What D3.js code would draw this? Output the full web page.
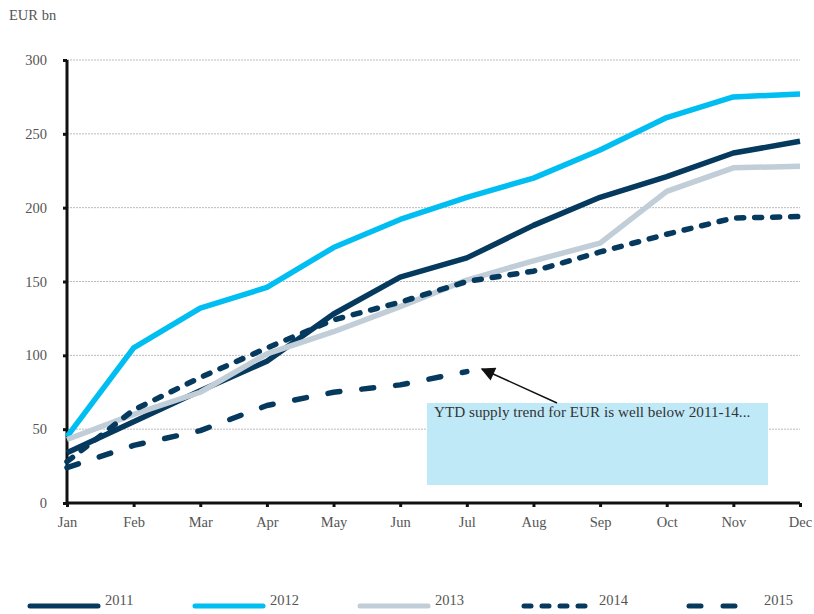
<!DOCTYPE html>
<html>
<head>
<meta charset="utf-8">
<script src="https://cdn.jsdelivr.net/npm/d3@7"></script>
<style>
  html, body { margin: 0; padding: 0; background: #fff; }
  svg { display: block; font-family: "Liberation Serif", "DejaVu Serif", serif; }
</style>
</head>
<body>
<svg id="chart" width="814" height="614"></svg>
<script>
const months = ["Jan","Feb","Mar","Apr","May","Jun","Jul","Aug","Sep","Oct","Nov","Dec"];
const yTicks = [0, 50, 100, 150, 200, 250, 300];
const s2011 = [34, 55, 76, 96, 128, 153, 166, 188, 207, 221, 237, 245];
const s2012 = [45, 105, 132, 146, 173, 192, 207, 220, 239, 261, 275, 277];
const s2013 = [43, 60, 75, 101, 116, 133, 151, 164, 176, 211, 227, 228];
const s2014 = [28, 63, 85, 105, 124, 136, 150, 157, 170, 182, 193, 194];
const s2015 = [24, 39, 49, 66, 75, 80, 89];
const seriesNames = ["2011", "2012", "2013", "2014", "2015"];
const annotationText = "YTD supply trend for EUR is well below 2011-14...";

const series = [
  { name: "2011", values: s2011, color: "#053a5e", dash: null },
  { name: "2012", values: s2012, color: "#00bdf2", dash: null },
  { name: "2013", values: s2013, color: "#c1ced8", dash: null },
  { name: "2014", values: s2014, color: "#053a5e", dash: "7,11" },
  { name: "2015", values: s2015, color: "#053a5e", dash: "12,22" }
];

const svg = d3.select("#chart");
const x = d3.scalePoint().domain(months).range([67, 800]);
const y = d3.scaleLinear().domain([0, 300]).range([503, 60]);

// gridlines
svg.append("g").selectAll("line").data(yTicks.filter(d => d > 0)).join("line")
  .attr("x1", 67).attr("x2", 800)
  .attr("y1", d => y(d)).attr("y2", d => y(d))
  .attr("stroke", "#bbb").attr("stroke-width", 1).attr("stroke-dasharray", "2,1");

// y axis
const yAxis = svg.append("g").attr("transform", "translate(67,0)")
  .call(d3.axisLeft(y).tickValues(yTicks).tickSize(4).tickPadding(16));
yAxis.select(".domain").attr("stroke", "#111").attr("stroke-width", 3).attr("d", `M0,${y(300)}V${y(0)}`);
yAxis.selectAll(".tick line").attr("stroke", "#111").attr("stroke-width", 3);
yAxis.selectAll(".tick text").attr("fill", "#555").style("font-size", "14.5px")
  .style("font-family", "'Liberation Serif', serif");

// x axis
const xAxis = svg.append("g").attr("transform", `translate(0,${y(0)})`)
  .call(d3.axisBottom(x).tickSize(4).tickPadding(10));
xAxis.select(".domain").attr("stroke", "#111").attr("stroke-width", 3).attr("d", `M${x("Jan")},0H${x("Dec")}`);
xAxis.selectAll(".tick line").attr("stroke", "#111").attr("stroke-width", 3);
xAxis.selectAll(".tick text").attr("fill", "#555").style("font-size", "14.5px")
  .style("font-family", "'Liberation Serif', serif");

// y title
svg.append("text").attr("x", 9).attr("y", 20).text("EUR bn")
  .attr("fill", "#555").style("font-size", "14.5px");

// lines
const line = d3.line().x((d, i) => x(months[i])).y(d => y(d));
svg.append("g").selectAll("path").data(series).join("path")
  .attr("d", d => line(d.values))
  .attr("fill", "none")
  .attr("stroke", d => d.color)
  .attr("stroke-width", 5.5)
  .attr("stroke-linejoin", "round")
  .attr("stroke-linecap", d => d.dash ? "round" : "butt")
  .attr("stroke-dasharray", d => d.dash);

// annotation box
svg.append("rect").attr("x", 427).attr("y", 403).attr("width", 341).attr("height", 82)
  .attr("fill", "#c0e9f8");
svg.append("text").attr("x", 434).attr("y", 417).text(annotationText)
  .attr("fill", "#333").style("font-size", "15.2px");

// arrow
svg.append("defs").append("marker").attr("id", "arrow")
  .attr("viewBox", "0 0 10 10").attr("refX", 9).attr("refY", 5)
  .attr("markerWidth", 16).attr("markerHeight", 14).attr("markerUnits", "userSpaceOnUse")
  .attr("orient", "auto")
  .append("path").attr("d", "M0,0L10,5L0,10z").attr("fill", "#111");
svg.append("line")
  .attr("x1", 557).attr("y1", 403).attr("x2", 482).attr("y2", 369)
  .attr("stroke", "#111").attr("stroke-width", 1.5)
  .attr("marker-end", "url(#arrow)");

// legend
const legendX = [30, 195, 360, 524, 689];
const lg = svg.append("g").selectAll("g").data(series).join("g")
  .attr("transform", (d, i) => `translate(${legendX[i]},0)`);
lg.append("line").attr("x1", 0).attr("x2", 68).attr("y1", 606).attr("y2", 606)
  .attr("stroke", d => d.color).attr("stroke-width", 5)
  .attr("stroke-linecap", "round")
  .attr("stroke-dasharray", d => d.dash);
lg.append("text").attr("x", 75).attr("y", 605).text(d => d.name)
  .attr("fill", "#555").style("font-size", "14.5px");
</script>
</body>
</html>
